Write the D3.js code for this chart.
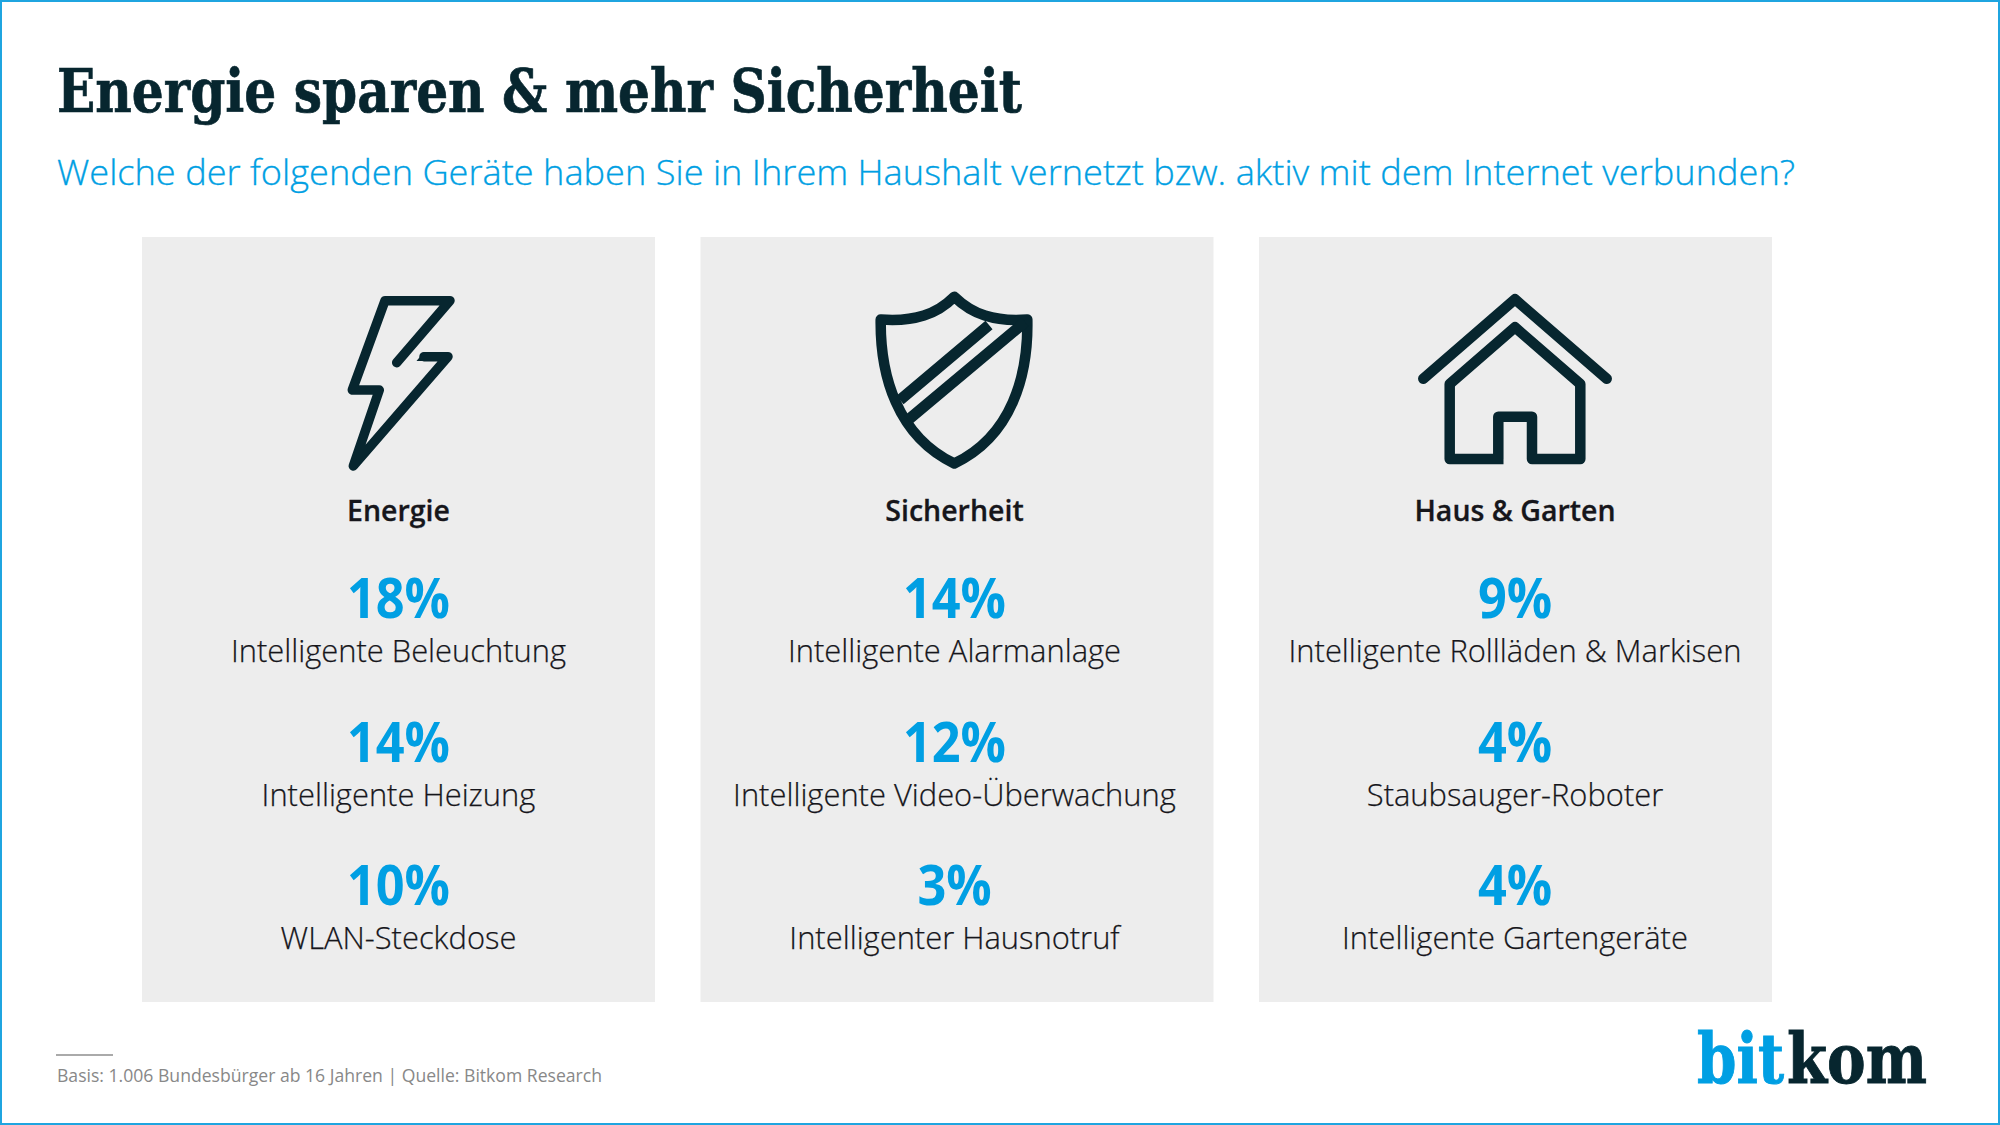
<!DOCTYPE html>
<html><head><meta charset="utf-8">
<script src="https://cdn.jsdelivr.net/npm/d3@7/dist/d3.min.js"></script>
<style>html,body{margin:0;padding:0;background:#fff}svg{display:block}</style>
</head><body><svg id="c" width="2000" height="1125"></svg>
<script>
const titleText = "Energie sparen & mehr Sicherheit";
const subtitleText = "Welche der folgenden Geräte haben Sie in Ihrem Haushalt vernetzt bzw. aktiv mit dem Internet verbunden?";
const sourceText = "Basis: 1.006 Bundesbürger ab 16 Jahren | Quelle: Bitkom Research";
const groups = ["Energie", "Sicherheit", "Haus & Garten"];
const energieLabels = ["Intelligente Beleuchtung", "Intelligente Heizung", "WLAN-Steckdose"];
const energieValues = [18, 14, 10];
const sicherheitLabels = ["Intelligente Alarmanlage", "Intelligente Video-Überwachung", "Intelligenter Hausnotruf"];
const sicherheitValues = [14, 12, 3];
const hausLabels = ["Intelligente Rollläden & Markisen", "Staubsauger-Roboter", "Intelligente Gartengeräte"];
const hausValues = [9, 4, 4];
const groupLabels = [energieLabels, sicherheitLabels, hausLabels];
const groupValues = [energieValues, sicherheitValues, hausValues];

const BLUE = "#009fe3", DARK = "#07262f", INK = "#16161b";
const SANS = "'Open Sans',sans-serif";
const SLAB = "'DejaVu Serif',serif";
const svg = d3.select("#c");
svg.append("rect").attr("x",1).attr("y",1).attr("width",1998).attr("height",1123)
  .attr("fill","#fff").attr("stroke","#1fa5e0").attr("stroke-width",2);

function fit(sel, w){ sel.attr("textLength",w).attr("lengthAdjust","spacingAndGlyphs"); return sel; }
function squeeze(sel, k){ return fit(sel, sel.node().getComputedTextLength()*k); }
function scaledTo(sel, px, py, w){
  const k = w / sel.node().getComputedTextLength();
  return sel.attr("transform",`translate(${px},${py}) scale(${k},1)`);
}

fit(svg.append("text").attr("x",57).attr("y",112).attr("font-family",SLAB).attr("font-weight",700)
  .attr("font-size",59).attr("fill",DARK).attr("stroke",DARK).attr("stroke-width",0.7).text(titleText), 965);
fit(svg.append("text").attr("x",57).attr("y",185).attr("font-family",SANS).attr("font-weight",300)
  .attr("font-size",34.5).attr("fill",BLUE).attr("stroke",BLUE).attr("stroke-width",0.3).text(subtitleText), 1738);

const x = d3.scaleBand().domain(groups).range([142,1772]).paddingInner(45.5/558.5);
const rows = d3.scalePoint().domain([0,1,2]).range([618,905]);
const centers = [398.5, 954.5, 1515];

const g = svg.selectAll("g.panel").data(groups).join("g").attr("class","panel");
g.append("rect").attr("x",d=>x(d)).attr("y",237).attr("width",x.bandwidth()).attr("height",765).attr("fill","#ededed");
g.append("text").attr("x",(d,i)=>centers[i]).attr("y",521).attr("text-anchor","middle")
  .attr("font-family",SANS).attr("font-weight",600).attr("font-size",28.5).attr("fill",INK).attr("stroke",INK).attr("stroke-width",0.3).text(d=>d);
g.each(function(d,i){
  const p = d3.select(this);
  groupValues[i].forEach((v,r)=>{
    squeeze(p.append("text").attr("x",centers[i]).attr("y",rows(r)).attr("text-anchor","middle")
      .attr("font-family",SANS).attr("font-weight",700).attr("font-size",56).attr("fill",BLUE).text(v+"%"), 0.9);
    p.append("text").attr("x",centers[i]).attr("y",rows(r)+44).attr("text-anchor","middle")
      .attr("font-family",SANS).attr("font-weight",300).attr("font-size",30.9).attr("fill",INK).attr("stroke",INK).attr("stroke-width",0.25).text(groupLabels[i][r]);
  });
});

// Icons
const ic = svg.append("g").attr("fill","none").attr("stroke",DARK).attr("stroke-linejoin","round").attr("stroke-linecap","round");
ic.append("path").attr("stroke-width",9.5).attr("d","M396.7 362.7L450 300.7H385L352.3 390H379.3L353.3 466L448 356.7H424");
ic.append("path").attr("stroke","none").attr("fill",DARK).attr("d","M416.5 361L424 352H445V361Z");
ic.append("path").attr("stroke-width",10.5).attr("d","M880.7 319.5C915 322 937 314 954.3 296.7C972 314 994 322 1027.3 319.5C1028.5 375 1012 436 954.3 463.5C897 436 880 375 880.7 319.5Z");
ic.append("path").attr("stroke-width",11).attr("stroke-linecap","butt").attr("d","M989 325L900 400M1025 322L908 420");
ic.append("path").attr("stroke-width",10.5).attr("d","M1423.3 378.7L1515 299.3L1606.7 378.7");
ic.append("path").attr("stroke-width",10.5).attr("stroke-linecap","butt").attr("d","M1498.3 459V416.7H1532V459H1580.3V384L1515 327.3L1449.7 384V459H1503.5");

// Footer
svg.append("line").attr("x1",56).attr("x2",113).attr("y1",1055).attr("y2",1055).attr("stroke","#aaa").attr("stroke-width",2);
fit(svg.append("text").attr("x",57).attr("y",1082).attr("font-family",SANS).attr("font-weight",400).attr("font-size",18.5).attr("fill","#888").text(sourceText), 545);
scaledTo(svg.append("text").attr("font-family",SLAB).attr("font-weight",700).attr("font-size",70)
  .attr("fill",BLUE).attr("stroke",BLUE).attr("stroke-width",1).text("bit"), 1697, 1083, 87);
scaledTo(svg.append("text").attr("font-family",SLAB).attr("font-weight",700).attr("font-size",70)
  .attr("fill",DARK).attr("stroke",DARK).attr("stroke-width",1).text("kom"), 1787, 1083, 140);
</script></body></html>
